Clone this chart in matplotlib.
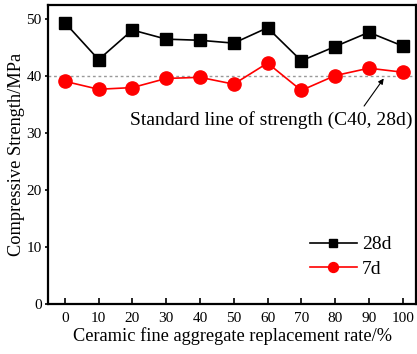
import matplotlib
matplotlib.use("Agg")
import matplotlib.pyplot as plt

plt.rcParams['font.family'] = ['Liberation Serif', 'DejaVu Serif']
plt.rcParams['mathtext.fontset'] = 'stix'

rates = [0, 10, 20, 30, 40, 50, 60, 70, 80, 90, 100]
s28 = [49.4, 42.9, 48.1, 46.5, 46.3, 45.8, 48.5, 42.7, 45.2, 47.7, 45.3]
s7 = [39.1, 37.7, 38.0, 39.6, 39.8, 38.6, 42.3, 37.5, 40.1, 41.4, 40.7]
standard = 40
xticks = [0, 10, 20, 30, 40, 50, 60, 70, 80, 90, 100]
yticks = [0, 10, 20, 30, 40, 50]

fig = plt.figure(figsize=(4.17, 3.54), dpi=100)
ax = fig.add_axes([0.115, 0.141, 0.883, 0.845])

ax.axhline(standard, color='#999999', linestyle=(0, (2, 2)), linewidth=1.0, zorder=1)
ax.plot(rates, s28, color='black', marker='s', markersize=8, linewidth=1.2, label='28d', zorder=3)
ax.plot(rates, s7, color='red', marker='o', markersize=9.5, linewidth=1.2, label='7d', zorder=3)

ax.annotate('Standard line of strength (C40, 28d)', xy=(94.4, 39.6), xytext=(61.1, 32.3),
            ha='center', va='center', fontsize=14,
            arrowprops=dict(arrowstyle='-|>', color='black', lw=0.8, mutation_scale=8,
                            shrinkA=2, shrinkB=0, relpos=(0.816, 1.0)))

ax.set_xlim(-5, 104)
ax.set_ylim(0, 52.5)
ax.set_xticks(xticks)
ax.set_yticks(yticks)
ax.tick_params(axis='x', direction='in', length=4, width=1.2, labelsize=11, pad=6)
ax.tick_params(axis='y', direction='out', length=2.5, width=1.2, labelsize=11, pad=2)
for s in ax.spines.values():
    s.set_linewidth(1.6)

ax.set_xlabel('Ceramic fine aggregate replacement rate/%', fontsize=13.2, labelpad=1)
ax.set_ylabel('Compressive Strength/MPa', fontsize=13.2, labelpad=1)

ax.legend(loc='upper left', bbox_to_anchor=(0.712, 0.228), frameon=False, fontsize=14,
          borderpad=0, borderaxespad=0,
          handlelength=2.4, handletextpad=0.26, labelspacing=0.35, markerscale=0.75)

fig.savefig('out.png', dpi=100)
